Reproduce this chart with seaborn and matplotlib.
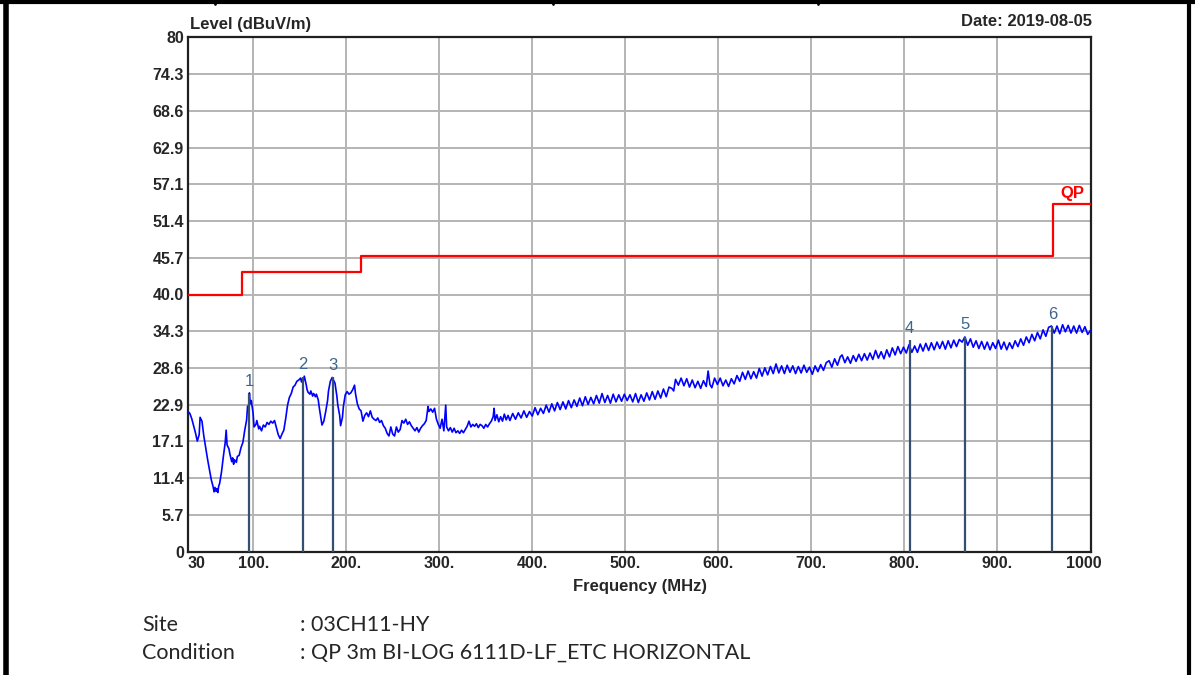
import matplotlib
matplotlib.use("Agg")
import matplotlib.pyplot as plt
import matplotlib.transforms as mtransforms
from matplotlib.lines import Line2D
import numpy as np
import seaborn as sns

freq = [30, 32, 34, 36, 38, 40, 42, 43, 45, 47, 49, 51, 53, 55, 57, 58, 59, 60, 61, 62,
        63, 64, 66, 68, 70, 71, 72, 74, 75, 77, 78, 79, 80, 82, 83, 85, 87, 89, 91, 93,
        94, 95, 96, 97, 98, 100, 101, 103, 104, 106, 107, 109, 111, 113, 115, 117, 119, 121, 123, 125,
        127, 129, 131, 133, 135, 137, 139, 141, 143, 145, 147, 149, 151, 152, 153, 154, 155, 157, 158, 159,
        161, 162, 164, 165, 167, 168, 170, 171, 173, 174, 176, 178, 180, 181, 183, 185, 186, 188, 190, 191,
        193, 194, 196, 197, 199, 201, 203, 205, 207, 209, 210, 212, 214, 216, 218, 220, 222, 224, 226, 228,
        230, 232, 234, 236, 238, 240, 242, 244, 246, 248, 250, 252, 254, 256, 258, 260, 262, 264, 266, 268,
        270, 272, 274, 276, 278, 280, 282, 284, 286, 288, 289, 291, 293, 295, 297, 299, 301, 303, 305, 307,
        308, 310, 312, 314, 316, 318, 320, 322, 324, 326, 328, 330, 332, 334, 336, 338, 340, 342, 344, 346,
        348, 350, 352, 354, 356, 358, 359, 360, 362, 364, 366, 368, 370, 372, 374, 376, 379, 382, 385, 388,
        391, 394, 397, 400, 403, 406, 409, 412, 415, 418, 421, 424, 427, 430, 433, 436, 439, 442, 445, 448,
        451, 454, 457, 460, 463, 466, 469, 472, 475, 478, 481, 484, 487, 490, 493, 496, 499, 502, 505, 508,
        511, 514, 517, 520, 523, 526, 529, 532, 535, 538, 541, 544, 547, 550, 552, 554, 557, 560, 563, 566,
        569, 572, 575, 578, 581, 584, 587, 589, 591, 593, 596, 599, 602, 605, 608, 611, 614, 617, 620, 623,
        626, 629, 632, 635, 638, 641, 644, 647, 650, 653, 656, 659, 662, 665, 668, 671, 674, 677, 680, 683,
        686, 689, 692, 695, 698, 701, 704, 707, 710, 713, 716, 719, 722, 725, 728, 731, 733, 736, 739, 742,
        745, 748, 751, 754, 757, 760, 763, 766, 769, 772, 775, 778, 781, 784, 787, 790, 793, 796, 799, 802,
        805, 808, 811, 814, 817, 820, 823, 826, 829, 832, 835, 838, 841, 844, 847, 850, 853, 856, 859, 862,
        865, 868, 871, 874, 877, 880, 883, 886, 889, 892, 895, 898, 901, 904, 907, 910, 913, 916, 919, 922,
        925, 928, 931, 934, 937, 940, 943, 946, 949, 952, 955, 958, 961, 964, 967, 970, 973, 976, 979, 982,
        985, 988, 991, 994, 997, 1000]
level = [21.8, 21.5, 20.7, 19.6, 18.5, 17.2, 18.2, 20.9, 20.3, 18.0, 16.2, 14.4, 12.8, 11.2, 10.1, 9.3, 10.0, 9.4, 9.8, 9.2,
         10.2, 10.6, 12.4, 14.8, 17.0, 18.9, 16.6, 16.0, 15.2, 14.0, 14.6, 13.6, 14.3, 13.9, 14.8, 15.0, 16.2, 17.0, 18.9, 20.5,
         22.6, 22.3, 24.7, 23.0, 23.5, 21.5, 19.4, 19.8, 20.4, 19.1, 19.5, 18.8, 19.7, 19.4, 20.1, 19.8, 20.3, 20.0, 20.4, 19.3,
         18.2, 17.6, 18.3, 18.9, 20.7, 22.8, 24.0, 24.6, 25.6, 25.9, 26.5, 26.7, 27.0, 26.4, 26.9, 26.6, 27.3, 26.0, 25.2, 24.8,
         24.5, 25.0, 24.2, 24.6, 24.1, 24.5, 23.6, 22.5, 20.6, 19.7, 20.3, 21.8, 23.5, 25.0, 26.5, 27.1, 26.8, 26.2, 24.2, 22.8,
         21.2, 19.6, 20.9, 22.6, 24.4, 24.9, 24.5, 24.7, 25.2, 25.9, 24.6, 23.0, 22.2, 21.9, 20.3, 21.2, 21.6, 21.0, 21.9, 20.9,
         20.6, 20.4, 20.8, 20.1, 20.4, 19.6, 19.2, 18.4, 18.0, 19.4, 18.3, 18.0, 19.4, 18.6, 19.0, 20.4, 20.0, 20.6, 19.8, 20.2,
         19.6, 19.2, 18.8, 19.3, 18.6, 19.2, 19.6, 19.9, 20.4, 22.6, 21.8, 22.2, 21.7, 22.3, 20.6, 19.8, 19.2, 20.6, 18.8, 22.8,
         19.4, 18.8, 19.3, 18.6, 19.2, 18.5, 18.8, 18.4, 18.9, 18.5, 19.0, 19.5, 20.3, 19.4, 19.8, 19.5, 19.9, 19.3, 19.8, 19.6,
         19.2, 19.8, 19.4, 19.9, 20.3, 21.0, 22.3, 20.4, 21.3, 20.2, 21.0, 20.3, 21.4, 20.5, 21.2, 20.4, 21.5, 20.6, 21.6, 20.8,
         21.9, 20.9, 21.8, 21.1, 22.4, 21.3, 22.3, 21.5, 22.8, 21.7, 23.0, 21.9, 23.2, 22.1, 23.3, 22.2, 23.5, 22.4, 23.6, 22.6,
         23.9, 22.7, 24.1, 22.9, 24.0, 23.0, 24.3, 23.1, 24.6, 23.2, 24.3, 23.1, 24.5, 23.3, 24.4, 23.4, 24.5, 23.5, 24.4, 23.3,
         24.6, 23.2, 24.4, 23.4, 24.7, 23.6, 24.9, 23.7, 25.0, 23.9, 25.3, 24.1, 25.6, 25.4, 25.0, 26.8, 25.9, 27.0, 25.8, 26.9,
         25.6, 26.7, 25.5, 26.5, 25.4, 26.6, 25.7, 28.1, 26.0, 25.5, 27.0, 26.0, 27.0, 25.8, 26.7, 25.7, 26.9, 26.1, 27.4, 26.5,
         27.9, 26.8, 28.1, 26.9, 28.0, 27.0, 28.5, 27.3, 28.6, 27.5, 28.8, 27.7, 29.2, 27.8, 28.9, 27.7, 29.0, 27.9, 28.9, 27.7,
         28.8, 27.8, 29.0, 27.9, 28.7, 27.6, 28.9, 28.0, 29.1, 28.2, 29.4, 29.7, 28.7, 30.0, 29.0, 30.3, 30.6, 29.4, 30.3, 29.3,
         30.5, 29.6, 30.7, 29.7, 30.8, 29.8, 30.9, 29.9, 31.3, 30.1, 31.1, 30.0, 31.4, 30.3, 31.7, 30.6, 31.9, 30.8, 31.8, 30.9,
         32.2, 31.0, 32.0, 31.0, 32.3, 31.2, 32.4, 31.3, 32.5, 31.4, 32.6, 31.6, 32.7, 31.5, 32.8, 31.7, 32.9, 31.9, 33.0, 32.6,
         33.4, 32.1, 33.1, 31.8, 32.8, 31.6, 32.7, 31.5, 32.6, 31.4, 32.5, 31.6, 32.9, 31.5, 32.6, 31.4, 32.5, 31.6, 32.8, 31.9,
         33.1, 32.1, 33.4, 32.5, 33.8, 32.8, 34.1, 33.1, 34.5, 33.5, 34.9, 35.1, 34.0, 35.1, 33.9, 35.3, 34.2, 35.2, 34.0, 35.1,
         34.0, 35.2, 34.1, 35.0, 33.8, 34.4]

# QP limit line
limit_freq = [30, 88, 216, 960, 1000]
limit_level = [40.0, 43.5, 46.0, 54.0, 54.0]

# Peak markers
marker_id = ["1", "2", "3", "4", "5", "6"]
marker_freq = [96.0, 153.3, 185.5, 805.5, 865.3, 959.1]
marker_level = [24.6, 27.2, 27.1, 32.9, 33.4, 35.1]

x_ticks = [30, 100, 200, 300, 400, 500, 600, 700, 800, 900, 1000]
x_labels = ["30", "100.", "200.", "300.", "400.", "500.", "600.", "700.", "800.", "900.", "1000"]
y_labels = ["0", "5.7", "11.4", "17.1", "22.9", "28.6", "34.3", "40.0",
            "45.7", "51.4", "57.1", "62.9", "68.6", "74.3", "80"]

sns.set_style("white")
plt.rcParams["font.family"] = ["Liberation Sans", "DejaVu Sans"]

W, H = 1195, 675
fig = plt.figure(figsize=(W / 100, H / 100), dpi=100)
ax = fig.add_axes([188 / W, 1 - 551.7 / H, (1090.5 - 188) / W, (551.7 - 37.3) / H])

sns.lineplot(x=freq, y=level, ax=ax, color="#0000ff", linewidth=1.2,
             sort=False, estimator=None, zorder=3)
sns.lineplot(x=limit_freq, y=limit_level, ax=ax, color="#ff0000", linewidth=1.6,
             drawstyle="steps-post", sort=False, estimator=None, zorder=3)

ax.vlines(marker_freq, 0, marker_level, color="#34506e", linewidth=1.6, zorder=4)
for lab, f, v in zip(marker_id, marker_freq, marker_level):
    ax.text(f, v + 0.7, lab, ha="center", va="bottom", fontsize=12,
            color="#3b6690", zorder=5)

ax.text(981, 54.6, "QP", ha="center", va="bottom", fontsize=12,
        fontweight="bold", color="#ff0000")

ax.set_xlim(30, 1000)
ax.set_ylim(0, 80)
ax.set_xticks(x_ticks)
ax.set_xticklabels(x_labels, fontsize=11.5, fontweight="bold")
ax.set_yticks(np.linspace(0, 80, len(y_labels)))
ax.set_yticklabels(y_labels, fontsize=11.5, fontweight="bold")
ax.tick_params(length=0, pad=3)
ax.grid(True, color="#b4b4b4", linewidth=1.4)
ax.set_axisbelow(True)
for s in ax.spines.values():
    s.set_color("#202020")
    s.set_linewidth(1.6)

# first/last x tick label alignment like the original
xl = ax.get_xticklabels()
xl[0].set_ha("left")
xl[-1].set_transform(xl[-1].get_transform() +
                     mtransforms.ScaledTranslation(-7 / 100, 0, fig.dpi_scale_trans))

ax.set_xlabel("")
ax.set_ylabel("")

fig.text(190 / W, 1 - 25 / H, "Level (dBuV/m)", fontsize=12, fontweight="bold",
         ha="left", va="center")
fig.text(1092 / W, 1 - 21 / H, "Date: 2019-08-05", fontsize=12, fontweight="bold",
         ha="right", va="center")
fig.text(640 / W, 1 - 587 / H, "Frequency (MHz)", fontsize=12, fontweight="bold",
         ha="center", va="center")

foot = dict(fontsize=15.5, family=["Lato", "DejaVu Sans"], va="center", ha="left")
fig.text(142 / W, 1 - 625 / H, "Site", **foot)
fig.text(300 / W, 1 - 625 / H, ": 03CH11-HY", **foot)
fig.text(142 / W, 1 - 653 / H, "Condition", **foot)
fig.text(300 / W, 1 - 653 / H, ": QP 3m BI-LOG 6111D-LF_ETC HORIZONTAL", **foot)

# page frame
def fline(x0, y0, x1, y1, lw):
    fig.add_artist(Line2D([x0 / W, x1 / W], [1 - y0 / H, 1 - y1 / H],
                          color="black", linewidth=lw, transform=fig.transFigure))

fline(5.5, 0, 5.5, H, 4)
fline(1189, 0, 1189, H, 3)
fline(0, 2, W, 2, 3)
for xv in [215, 553, 818]:
    fline(xv, 0, xv, 4, 2)

fig.savefig("out.png", dpi=100)
